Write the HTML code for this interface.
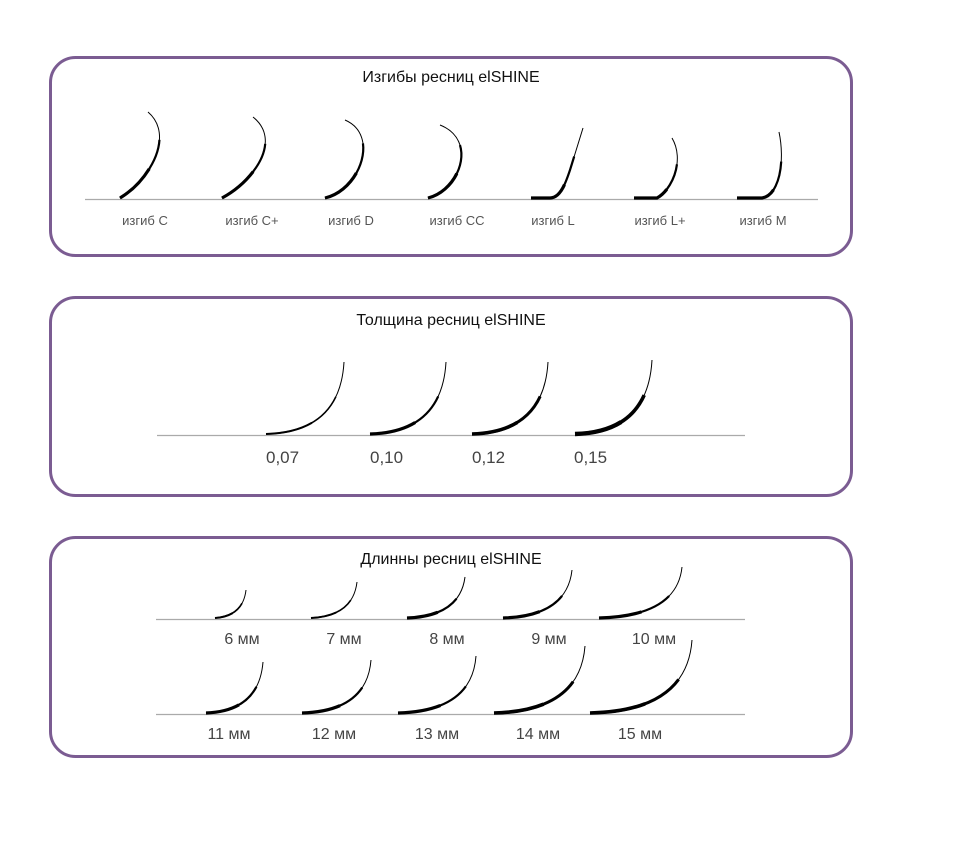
<!DOCTYPE html>
<html><head><meta charset="utf-8"><style>
body{margin:0;background:#fff;width:960px;height:849px;overflow:hidden}
svg text{font-family:"Liberation Sans",sans-serif;fill:#333}
.t{font-size:16px;fill:#111;text-anchor:middle}
.l{font-size:13px;fill:#555;text-anchor:middle}
.n{font-size:17px;fill:#444}
.m{font-size:16px;fill:#444;text-anchor:middle}
.a{fill:none;stroke:#000;stroke-width:1}
.b{fill:none;stroke:#000;stroke-width:2.2;stroke-dasharray:70 200}
.c{fill:none;stroke:#000;stroke-width:3.2;stroke-dasharray:40 200}
.th .b{stroke-width:1.6}.th .c{stroke-width:2}
.tk .b{stroke-width:3}.tk .c{stroke-width:3.6}
.tx .b{stroke-width:3.6}.tx .c{stroke-width:4.4}
</style></head><body>
<svg width="960" height="849" viewBox="0 0 960 849" xmlns="http://www.w3.org/2000/svg">
<defs>
<path id="p1" d="M120,198 C150,180 175,135 148,112" pathLength="100"/>
<path id="p2" d="M222,198 C255,180 282,140 253,117" pathLength="100"/>
<path id="p3" d="M325,198 C360,190 380,135 345,120" pathLength="100"/>
<path id="p4" d="M428,198 C460,190 478,140 440,125" pathLength="100"/>
<path id="p5" d="M531,198 L550,198 C560,198 565,185 570,170 L583,128" pathLength="100"/>
<path id="p6" d="M634,198 L657,198 C672,190 685,160 672,138" pathLength="100"/>
<path id="p7" d="M737,198 L762,198 C780,195 785,160 779,132" pathLength="100"/>
<path id="t1" d="M266,434 Q340,432 344,362" pathLength="100"/>
<path id="t2" d="M370,434 Q442,432 446,362" pathLength="100"/>
<path id="t3" d="M472,434 Q544,432 548,362" pathLength="100"/>
<path id="t4" d="M575,434 Q648,432 652,360" pathLength="100"/>
<path id="l1" d="M215,618 Q243,616 246,590" pathLength="100"/>
<path id="l2" d="M311,618 Q353,616 357,582" pathLength="100"/>
<path id="l3" d="M407,618 Q460,616 465,577" pathLength="100"/>
<path id="l4" d="M503,618 Q567,616 572,570" pathLength="100"/>
<path id="l5" d="M599,618 Q677,616 682,567" pathLength="100"/>
<path id="l6" d="M206,713 Q259,711 263,662" pathLength="100"/>
<path id="l7" d="M302,713 Q367,711 371,660" pathLength="100"/>
<path id="l8" d="M398,713 Q472,711 476,656" pathLength="100"/>
<path id="l9" d="M494,713 Q580,711 585,646" pathLength="100"/>
<path id="l10" d="M590,713 Q687,711 692,640" pathLength="100"/>
</defs>
<g fill="none" stroke="#7b5c92" stroke-width="3">
<rect x="50.5" y="57.5" width="801" height="198" rx="25"/>
<rect x="50.5" y="297.5" width="801" height="198" rx="25"/>
<rect x="50.5" y="537.5" width="801" height="219" rx="25"/>
</g>
<text class="t" x="451" y="82">Изгибы ресниц elSHINE</text>
<text class="t" x="451" y="325">Толщина ресниц elSHINE</text>
<text class="t" x="451" y="564">Длинны ресниц elSHINE</text>
<g stroke="#aaa" stroke-width="1.3">
<line x1="85" y1="199.5" x2="818" y2="199.5"/>
<line x1="157" y1="435.5" x2="745" y2="435.5"/>
<line x1="156" y1="619.5" x2="745" y2="619.5"/>
<line x1="156" y1="714.5" x2="745" y2="714.5"/>
</g>
<g>
<use href="#p1" class="a"/><use href="#p1" class="b"/><use href="#p1" class="c"/>
<use href="#p2" class="a"/><use href="#p2" class="b"/><use href="#p2" class="c"/>
<use href="#p3" class="a"/><use href="#p3" class="b"/><use href="#p3" class="c"/>
<use href="#p4" class="a"/><use href="#p4" class="b"/><use href="#p4" class="c"/>
<use href="#p5" class="a"/><use href="#p5" class="b"/><use href="#p5" class="c"/>
<use href="#p6" class="a"/><use href="#p6" class="b"/><use href="#p6" class="c"/>
<use href="#p7" class="a"/><use href="#p7" class="b"/><use href="#p7" class="c"/>
</g>
<text class="l" x="145" y="225">изгиб C</text>
<text class="l" x="252" y="225">изгиб C+</text>
<text class="l" x="351" y="225">изгиб D</text>
<text class="l" x="457" y="225">изгиб CC</text>
<text class="l" x="553" y="225">изгиб L</text>
<text class="l" x="660" y="225">изгиб L+</text>
<text class="l" x="763" y="225">изгиб M</text>
<g class="th"><use href="#t1" class="a"/><use href="#t1" class="b"/><use href="#t1" class="c"/></g>
<g><use href="#t2" class="a"/><use href="#t2" class="b"/><use href="#t2" class="c"/></g>
<g class="tk"><use href="#t3" class="a"/><use href="#t3" class="b"/><use href="#t3" class="c"/></g>
<g class="tx"><use href="#t4" class="a"/><use href="#t4" class="b"/><use href="#t4" class="c"/></g>
<text class="n" x="266" y="463">0,07</text>
<text class="n" x="370" y="463">0,10</text>
<text class="n" x="472" y="463">0,12</text>
<text class="n" x="574" y="463">0,15</text>
<g class="th">
<use href="#l1" class="a"/><use href="#l1" class="b"/><use href="#l1" class="c"/>
<use href="#l2" class="a"/><use href="#l2" class="b"/><use href="#l2" class="c"/>
</g>
<g>
<use href="#l3" class="a"/><use href="#l3" class="b"/><use href="#l3" class="c"/>
<use href="#l4" class="a"/><use href="#l4" class="b"/><use href="#l4" class="c"/>
<use href="#l5" class="a"/><use href="#l5" class="b"/><use href="#l5" class="c"/>
<use href="#l6" class="a"/><use href="#l6" class="b"/><use href="#l6" class="c"/>
<use href="#l7" class="a"/><use href="#l7" class="b"/><use href="#l7" class="c"/>
<use href="#l8" class="a"/><use href="#l8" class="b"/><use href="#l8" class="c"/>
</g>
<g class="tk">
<use href="#l9" class="a"/><use href="#l9" class="b"/><use href="#l9" class="c"/>
<use href="#l10" class="a"/><use href="#l10" class="b"/><use href="#l10" class="c"/>
</g>
<text class="m" x="242" y="644">6 мм</text>
<text class="m" x="344" y="644">7 мм</text>
<text class="m" x="447" y="644">8 мм</text>
<text class="m" x="549" y="644">9 мм</text>
<text class="m" x="654" y="644">10 мм</text>
<text class="m" x="229" y="739">11 мм</text>
<text class="m" x="334" y="739">12 мм</text>
<text class="m" x="437" y="739">13 мм</text>
<text class="m" x="538" y="739">14 мм</text>
<text class="m" x="640" y="739">15 мм</text>
</svg>
</body></html>
